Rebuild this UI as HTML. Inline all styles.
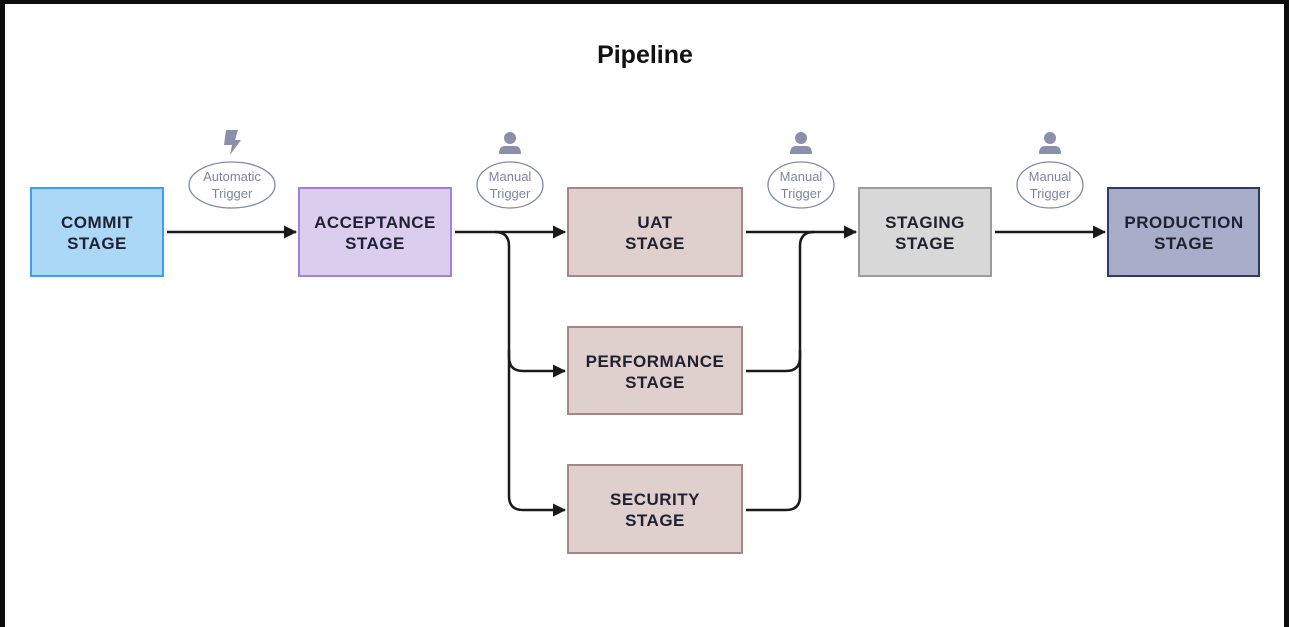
<!DOCTYPE html>
<html><head><style>
body{margin:0;background:#0d0d0d;}
svg{display:block}
text{font-family:"Liberation Sans",sans-serif}
</style></head><body>
<svg width="1289" height="627" viewBox="0 0 1289 627">
<rect x="0" y="0" width="1289" height="627" fill="#0d0d0d"/>
<rect x="5" y="4" width="1279" height="623" fill="#fff"/>
<text x="645" y="63" text-anchor="middle" font-size="25" font-weight="bold" fill="#111">Pipeline</text>
<defs><marker id="a" markerWidth="14" markerHeight="14" refX="12" refY="7" orient="auto" markerUnits="userSpaceOnUse"><path d="M0,0.5 L13,7 L0,13.5 z" fill="#1a1a1a"/></marker></defs>
<g stroke="#1a1a1a" stroke-width="2.5" fill="none">
<path d="M167,232 H296" marker-end="url(#a)"/>
<path d="M455,232 H565" marker-end="url(#a)"/>
<path d="M495,232 Q509,232 509,246 V357 Q509,371 523,371 H565" marker-end="url(#a)"/>
<path d="M509,350 V496 Q509,510 523,510 H565" marker-end="url(#a)"/>
<path d="M746,232 H856" marker-end="url(#a)"/>
<path d="M746,371 H786 Q800,371 800,357 V246 Q800,232 814,232"/>
<path d="M746,510 H786 Q800,510 800,496 V350"/>
<path d="M995,232 H1105" marker-end="url(#a)"/>
</g>
<g font-weight="bold" font-size="17" fill="#1f2030" text-anchor="middle" letter-spacing="0.5">
<rect x="31" y="188" width="132" height="88" fill="#acd8f8" stroke="#3c9ff0" stroke-width="2"/>
<text x="97" y="228">COMMIT</text><text x="97" y="249">STAGE</text>
<rect x="299" y="188" width="152" height="88" fill="#dacdee" stroke="#a57fd6" stroke-width="2"/>
<text x="375" y="228">ACCEPTANCE</text><text x="375" y="249">STAGE</text>
<rect x="568" y="188" width="174" height="88" fill="#dfcfcd" stroke="#a88685" stroke-width="2"/>
<text x="655" y="228">UAT</text><text x="655" y="249">STAGE</text>
<rect x="568" y="327" width="174" height="87" fill="#dfcfcd" stroke="#a88685" stroke-width="2"/>
<text x="655" y="367">PERFORMANCE</text><text x="655" y="388">STAGE</text>
<rect x="568" y="465" width="174" height="88" fill="#dfcfcd" stroke="#a88685" stroke-width="2"/>
<text x="655" y="505">SECURITY</text><text x="655" y="526">STAGE</text>
<rect x="859" y="188" width="132" height="88" fill="#d8d8d8" stroke="#9c9c9c" stroke-width="2"/>
<text x="925" y="228">STAGING</text><text x="925" y="249">STAGE</text>
<rect x="1108" y="188" width="151" height="88" fill="#a8aec9" stroke="#2f3a6a" stroke-width="2"/>
<text x="1184" y="228">PRODUCTION</text><text x="1184" y="249">STAGE</text>
</g>
<g fill="#fff" stroke="#8088a6" stroke-width="1.3">
<ellipse cx="232" cy="185" rx="43" ry="23"/>
<ellipse cx="510" cy="185" rx="33" ry="23"/>
<ellipse cx="801" cy="185" rx="33" ry="23"/>
<ellipse cx="1050" cy="185" rx="33" ry="23"/>
</g>
<g font-size="13" fill="#7d85a3" text-anchor="middle">
<text x="232" y="181">Automatic</text><text x="232" y="198">Trigger</text>
<text x="510" y="181">Manual</text><text x="510" y="198">Trigger</text>
<text x="801" y="181">Manual</text><text x="801" y="198">Trigger</text>
<text x="1050" y="181">Manual</text><text x="1050" y="198">Trigger</text>
</g>
<g fill="#8a90aa">
<path d="M226,130 L238,130 L235,140 L241,140 L230,155 L232,145 L224,145 z"/>
<circle cx="510" cy="138" r="6"/><path d="M499,154 Q499,146 505,146 H515 Q521,146 521,154 z"/>
<circle cx="801" cy="138" r="6"/><path d="M790,154 Q790,146 796,146 H806 Q812,146 812,154 z"/>
<circle cx="1050" cy="138" r="6"/><path d="M1039,154 Q1039,146 1045,146 H1055 Q1061,146 1061,154 z"/>
</g>
</svg>
</body></html>
